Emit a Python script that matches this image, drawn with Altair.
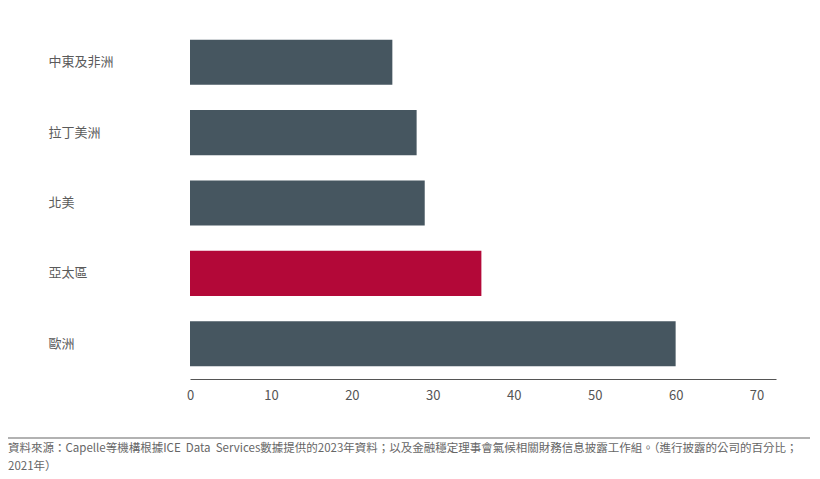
import altair as alt
import pandas as pd

regions = ["中東及非洲", "拉丁美洲", "北美", "亞太區", "歐洲"]
values = [25, 28, 29, 36, 60]
highlight = [False, False, False, True, False]
tick_values = [0, 10, 20, 30, 40, 50, 60, 70]
source_line1 = "資料來源：Capelle等機構根據ICE\u00a0\u00a0Data\u00a0\u00a0Services數據提供的2023年資料；以及金融穩定理事會氣候相關財務信息披露工作組。（進行披露的公司的百分比；"
source_line2 = "2021年）"

FONT = "Noto Sans CJK TC"
DARK = "#465660"
RED = "#b30838"

df = pd.DataFrame({"region": regions, "value": values, "hl": highlight})

bars = alt.Chart(df).mark_bar(cornerRadius=0).encode(
    y=alt.Y(
        "region:N",
        sort=regions,
        title=None,
        scale=alt.Scale(paddingInner=0.36, paddingOuter=0.18),
        axis=alt.Axis(
            domain=False, ticks=False, tickSize=0, labelAlign="left",
            labelPadding=142, labelFontSize=13, labelColor="#5a5a5a",
            labelFont=FONT,
        ),
    ),
    x=alt.X(
        "value:Q",
        title=None,
        scale=alt.Scale(domain=[0, 72.4], nice=False),
        axis=alt.Axis(
            values=tick_values, grid=False, ticks=False, tickSize=0,
            domainColor="#555555", domainWidth=1, labelPadding=10,
            labelFontSize=13, labelColor="#555555", labelFont=FONT,
            labelFlush=False,
        ),
    ),
    color=alt.Color(
        "hl:N",
        scale=alt.Scale(domain=[False, True], range=[DARK, RED]),
        legend=None,
    ),
)

note_df = pd.DataFrame({"k": [0]})

sep = alt.Chart(note_df).mark_rule(color="#999999", strokeWidth=1.5).encode(
    x=alt.value(-182), x2=alt.value(620), y=alt.value(411)
)

note1 = alt.Chart(note_df).mark_text(
    align="left", baseline="middle", font=FONT, fontSize=11.5, color="#666666",
).encode(x=alt.value(-182), y=alt.value(422), text=alt.value(source_line1))

note2 = alt.Chart(note_df).mark_text(
    align="left", baseline="middle", font=FONT, fontSize=11.5, color="#666666",
).encode(x=alt.value(-182), y=alt.value(439.5), text=alt.value(source_line2))

chart = alt.layer(bars, sep, note1, note2).properties(
    width=586, height=352,
    padding={"left": 182, "top": 19, "right": 36, "bottom": 100},
    autosize=alt.AutoSizeParams(type="none"),
    background="white",
).configure_view(stroke=None)

chart.save("out.html", embed_options={"renderer": "svg", "actions": False})
